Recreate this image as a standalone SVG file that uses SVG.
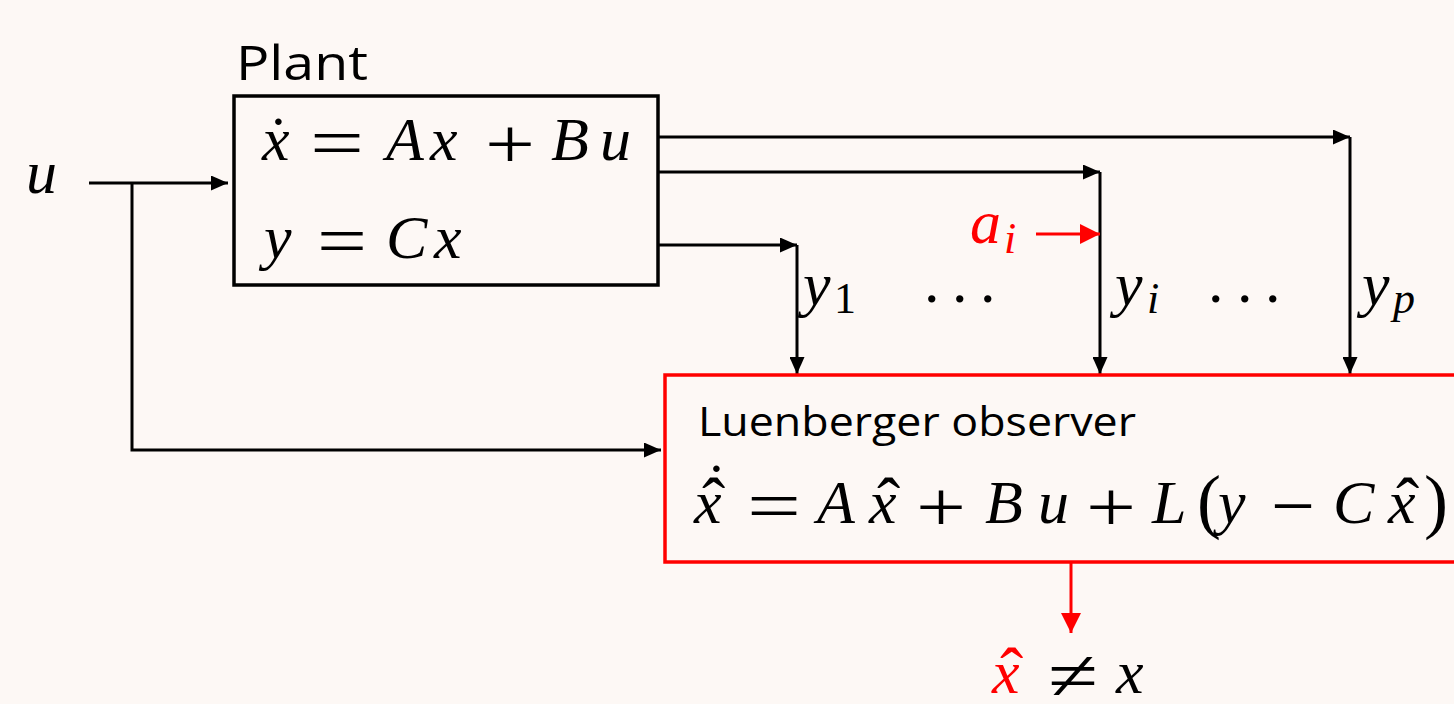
<svg xmlns="http://www.w3.org/2000/svg" width="1454" height="704" viewBox="0 0 1454 704">
  <defs>
    <style>
      .m { font-family: "Liberation Serif", "Times New Roman", serif; font-style: italic; font-size: 62px; fill: #000; }
      .up { font-style: normal; }
      .op { font-family: "Liberation Serif", "Times New Roman", serif; font-style: normal; font-size: 72px; fill: #000; }
      .hat { font-style: normal; font-size: 70px; }
      .sub { font-size: 44px; }
      .red { fill: #ff0000; }
      .lab { font-family: "Open Sans", "Liberation Sans", sans-serif; fill: #000; }
      .wire { fill: none; stroke: #000; stroke-width: 3; }
      .wirer { fill: none; stroke: #ff0000; stroke-width: 3; }
    </style>
    <marker id="ah" viewBox="0 0 10 10" refX="10" refY="5" markerWidth="17" markerHeight="15" markerUnits="userSpaceOnUse" orient="auto" preserveAspectRatio="none">
      <path d="M0,0 L10,5 L0,10 z" fill="#000"/>
    </marker>
    <marker id="ahr" viewBox="0 0 10 10" refX="10" refY="5" markerWidth="20" markerHeight="20" markerUnits="userSpaceOnUse" orient="auto">
      <path d="M0,0 L10,5 L0,10 z" fill="#ff0000"/>
    </marker>
  </defs>
  <rect x="0" y="0" width="1454" height="704" fill="#fdf8f5"/>

  <g id="connectors">
    <path class="wire" d="M89,183 H228" marker-end="url(#ah)"/>
    <path class="wire" d="M132,183 V450 H661" marker-end="url(#ah)"/>
    <path class="wire" d="M658,137 H1350" marker-end="url(#ah)"/>
    <path class="wire" d="M1350,137 V374" marker-end="url(#ah)"/>
    <path class="wire" d="M658,172 H1100" marker-end="url(#ah)"/>
    <path class="wire" d="M1100,172 V374" marker-end="url(#ah)"/>
    <path class="wire" d="M658,245 H797" marker-end="url(#ah)"/>
    <path class="wire" d="M797,245 V374" marker-end="url(#ah)"/>
    <path class="wirer" d="M1036,234 H1100" marker-end="url(#ahr)"/>
    <path class="wirer" d="M1071,563 V633" marker-end="url(#ahr)"/>
  </g>

  <g id="input-u">
    <text class="m" x="26" y="193">u</text>
  </g>

  <g id="plant">
    <text class="lab" x="236" y="80" font-size="48" textLength="132" lengthAdjust="spacingAndGlyphs">Plant</text>
    <rect x="234" y="96" width="424" height="189" fill="none" stroke="#000" stroke-width="3.5"/>
    <text class="m"><tspan class="up" x="268" y="159">˙</tspan><tspan x="262" y="160">x</tspan><tspan x="386" y="160">A</tspan><tspan x="430" y="160">x</tspan><tspan x="551" y="160">B</tspan><tspan x="600" y="160">u</tspan></text>
    <text class="op" x="310" y="167" textLength="54" lengthAdjust="spacingAndGlyphs">=</text>
    <text class="op" x="485" y="168" textLength="50" lengthAdjust="spacingAndGlyphs">+</text>
    <text class="m"><tspan x="264" y="258">y</tspan><tspan x="386" y="258">C</tspan><tspan x="434" y="258">x</tspan></text>
    <text class="op" x="317" y="265" textLength="50" lengthAdjust="spacingAndGlyphs">=</text>
  </g>

  <g id="labels">
    <text class="m"><tspan x="803" y="305">y</tspan><tspan class="sub up" x="834" y="313">1</tspan></text>
    <text class="m up"><tspan x="924" y="302">.</tspan><tspan x="952" y="302">.</tspan><tspan x="980" y="302">.</tspan></text>
    <text class="m"><tspan x="1115" y="305">y</tspan><tspan class="sub" x="1147" y="313">i</tspan></text>
    <text class="m up"><tspan x="1208" y="302">.</tspan><tspan x="1237" y="302">.</tspan><tspan x="1265" y="302">.</tspan></text>
    <text class="m"><tspan x="1362" y="305">y</tspan><tspan class="sub" x="1393" y="313">p</tspan></text>
    <text class="m red"><tspan x="970" y="243">a</tspan><tspan class="sub" x="1004" y="253">i</tspan></text>
  </g>

  <g id="observer">
    <rect x="665" y="375" width="820" height="187" fill="none" stroke="#ff0000" stroke-width="3.5"/>
    <text class="lab" x="698" y="436" font-size="40" textLength="438" lengthAdjust="spacingAndGlyphs">Luenberger observer</text>
    <text class="m"><tspan class="up" x="706" y="506">˙</tspan><tspan class="hat" x="702" y="526">ˆ</tspan><tspan x="694" y="523">x</tspan><tspan x="817" y="523">A</tspan><tspan class="hat" x="877" y="526">ˆ</tspan><tspan x="869" y="523">x</tspan><tspan x="985" y="523">B</tspan><tspan x="1038" y="523">u</tspan><tspan x="1152" y="523">L</tspan><tspan class="up" font-size="72" x="1197" y="525">(</tspan><tspan x="1218" y="523">y</tspan><tspan x="1333" y="523">C</tspan><tspan class="hat" x="1396" y="526">ˆ</tspan><tspan x="1388" y="523">x</tspan><tspan class="up" font-size="72" x="1424" y="525">)</tspan></text>
    <text class="op" x="747" y="530" textLength="54" lengthAdjust="spacingAndGlyphs">=</text>
    <text class="op" x="916" y="531" textLength="50" lengthAdjust="spacingAndGlyphs">+</text>
    <text class="op" x="1086" y="531" textLength="50" lengthAdjust="spacingAndGlyphs">+</text>
    <text class="op" x="1271" y="530" textLength="44" lengthAdjust="spacingAndGlyphs">−</text>
  </g>

  <g id="estimate">
    <text class="m"><tspan class="hat red" x="1000" y="696">ˆ</tspan><tspan class="red" x="992" y="693">x</tspan><tspan x="1116" y="693">x</tspan></text>
    <text class="op" x="1048" y="700" textLength="50" lengthAdjust="spacingAndGlyphs">≠</text>
  </g>
</svg>
